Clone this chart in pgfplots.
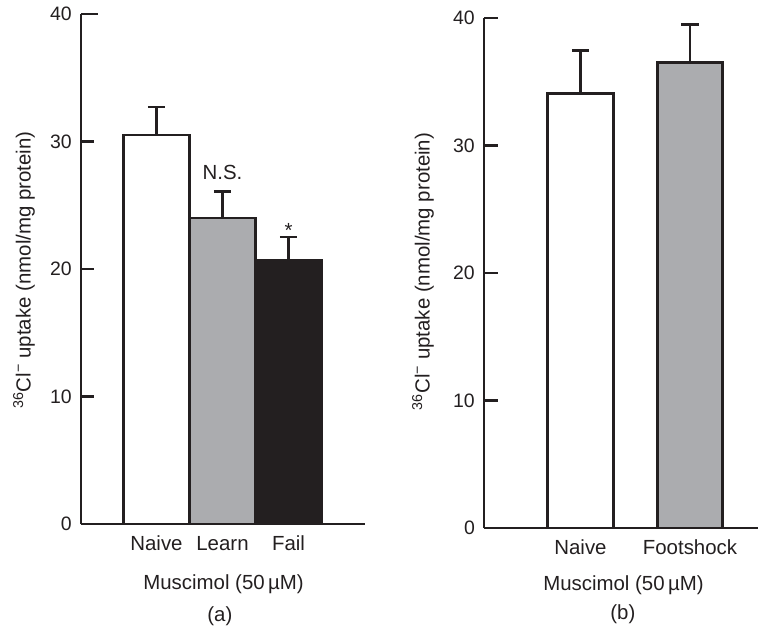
\documentclass[border=0pt]{standalone}
\usepackage{pgfplots}
\pgfplotsset{compat=1.18}
\usepackage{fontspec}
\setmainfont{Liberation Sans}

\definecolor{ink}{HTML}{231F20}
\definecolor{midgray}{HTML}{ABACAF}

\newcommand{\lblfont}{\fontsize{20.5}{24}\selectfont}
\newcommand{\tickfont}{\fontsize{19.5}{23}\selectfont}

\pgfplotsset{
  uptake panel/.style={
    scale only axis,
    height=510bp,
    ymin=0, ymax=40,
    ytick={0,10,20,30,40},
    axis x line*=bottom,
    axis y line*=left,
    axis line style={ink, line width=2.6bp},
    tick align=inside,
    ytick style={ink, line width=2.6bp},
    xtick style={draw=none},
    /pgf/number format/assume math mode=true,
    yticklabel style={font=\tickfont, text=ink, inner sep=0pt, xshift=-9bp},
    xticklabel style={font=\lblfont, text=ink, anchor=base, inner sep=0pt, yshift=-26.5bp},
    label style={font=\lblfont, text=ink},
    ylabel={\textsuperscript{36}Cl\textsuperscript{−} uptake (nmol/mg protein)},
    xlabel={Muscimol (50\,µM)},
    clip=false,
  },
  upbar/.style={
    ybar, bar shift=0pt, draw=ink, line width=2.6bp,
    error bars/y dir=plus,
    error bars/y explicit,
    error bars/error mark=|,
    error bars/error bar style={ink, line width=2.6bp},
    error bars/error mark options={ink, line width=2.6bp, mark size=8.7bp},
  },
}

\begin{document}
\begin{tikzpicture}
\path[use as bounding box] (0,0) rectangle (759bp,-630bp);

% (a) naive, learning and failing animals
\begin{axis}[
  uptake panel,
  at={(81bp,-524bp)}, anchor=south west,
  width=284bp,
  xmin=-1.144, xmax=3.159,
  xtick={0,1,2},
  xticklabels={Naive,Learn,Fail},
  major tick length=12.5bp,
  extra y ticks={40},
  extra y tick labels={},
  extra y tick style={major tick length=17bp},
  ylabel style={at={(axis description cs:-0.2007,0.498)}, anchor=center},
  xlabel style={at={(axis description cs:0.502,-0.129)}, anchor=base, inner sep=0pt},
]
\addplot[upbar, bar width=66bp, fill=white] coordinates {(0,30.5) +- (0,2.2)};
\addplot[upbar, bar width=66bp, fill=midgray] coordinates {(1,24.0) +- (0,2.1)};
\addplot[upbar, bar width=66bp, fill=ink] coordinates {(2,20.7) +- (0,1.8)};
\node[anchor=base, inner sep=0pt, text=ink, font=\lblfont] at (axis cs:1,27.0) {N.S.};
\node[anchor=base, inner sep=0pt, text=ink, font=\lblfont] at (axis cs:2,22.5) {*};
\node[anchor=base, inner sep=0pt, text=ink, font=\lblfont] at (axis description cs:0.489,-0.192) {(a)};
\end{axis}

% (b) naive and footshock-only animals
\begin{axis}[
  uptake panel,
  at={(484bp,-528bp)}, anchor=south west,
  width=274bp,
  xmin=-0.881, xmax=1.621,
  xtick={0,1},
  xticklabels={Naive,Footshock},
  major tick length=14bp,
  ylabel style={at={(axis description cs:-0.2226,0.503)}, anchor=center},
  xlabel style={at={(axis description cs:0.509,-0.1216)}, anchor=base, inner sep=0pt},
]
\addplot[upbar, bar width=65.5bp, fill=white] coordinates {(0,34.1) +- (0,3.35)};
\addplot[upbar, bar width=65.5bp, fill=midgray] coordinates {(1,36.5) +- (0,3.0)};
\node[anchor=base, inner sep=0pt, text=ink, font=\lblfont] at (axis description cs:0.507,-0.180) {(b)};
\end{axis}
\end{tikzpicture}
\end{document}
